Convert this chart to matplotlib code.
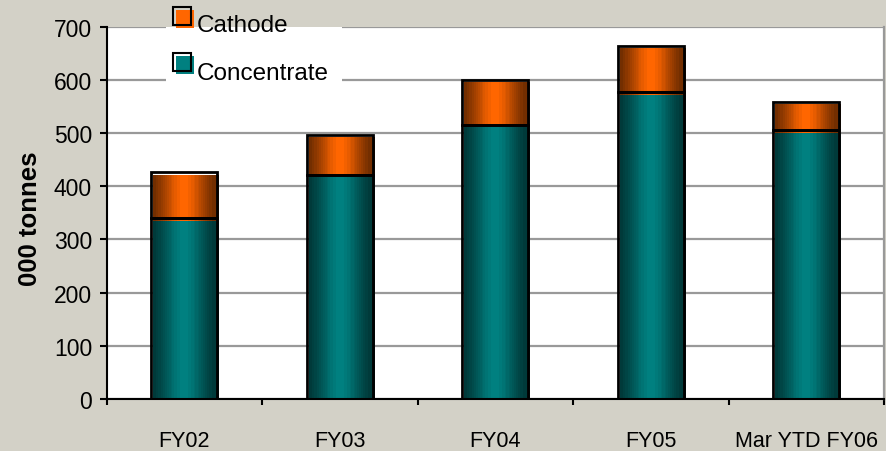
import numpy as np
import matplotlib
matplotlib.use("Agg")
import matplotlib.pyplot as plt
from matplotlib.patches import Rectangle
from matplotlib.transforms import ScaledTranslation

# ---- data ----
categories = ["FY02", "FY03", "FY04", "FY05", "Mar YTD FY06"]
concentrate = [340, 422, 516, 577, 505]
cathode = [86, 75, 84, 87, 54]
series_names = ["Cathode", "Concentrate"]
y_ticks = [0, 100, 200, 300, 400, 500, 600, 700]
y_label = "000 tonnes"

BG = "#D3D1C7"
ORANGE = np.array([255, 102, 0]) / 255.0
TEAL = np.array([0, 128, 128]) / 255.0

W, H = 887, 452
fig = plt.figure(figsize=(W / 100, H / 100), dpi=100, facecolor=BG)

ax_left, ax_right, ax_top, ax_bottom = 106.7, 884.0, 27.7, 400.0
ax = fig.add_axes([ax_left / W, (H - ax_bottom) / H,
                   (ax_right - ax_left) / W, (ax_bottom - ax_top) / H])
ax.set_facecolor("white")

# gradient profile (Excel-like cylinder shading, banded)
N = 120
t = np.linspace(0, 1, N)
prof = 0.36 + 0.64 * np.exp(-((t - 0.47) / 0.33) ** 2)
prof = np.round(prof * 22) / 22
prof = np.clip(prof, 0, 1)

def grad(color):
    return (prof[:, None] * color[None, :])[None, :, :]

bar_w = 0.424
shift = ax.transData + ScaledTranslation(2.0 / 100, -2.5 / 100, fig.dpi_scale_trans)

x = np.arange(len(categories))
for i in range(len(categories)):
    x0, x1 = x[i] - bar_w / 2, x[i] + bar_w / 2
    c = concentrate[i]
    tot = concentrate[i] + cathode[i]
    # shifted gradient fills
    ax.imshow(grad(TEAL), extent=(x0, x1, 0, c), transform=shift,
              aspect="auto", interpolation="nearest", zorder=2)
    ax.imshow(grad(ORANGE), extent=(x0, x1, c, tot), transform=shift,
              aspect="auto", interpolation="nearest", zorder=2)
    # outlines at true position
    ax.add_patch(Rectangle((x0, 0), bar_w, c, fill=False, edgecolor="black",
                           lw=2.0, zorder=3))
    ax.add_patch(Rectangle((x0, c), bar_w, cathode[i], fill=False,
                           edgecolor="black", lw=2.0, zorder=3))

ax.set_xlim(-0.5, len(categories) - 0.5)
ax.set_ylim(0, 700)

# grid and spines
ax.set_axisbelow(True)
ax.set_yticks(y_ticks)
ax.yaxis.grid(True, color="#999999", lw=1.6)
ax.spines["top"].set_visible(False)
ax.spines["right"].set_color("#999999")
ax.spines["right"].set_linewidth(1.6)
ax.spines["left"].set_linewidth(1.5)
ax.spines["bottom"].set_linewidth(1.5)

ax.tick_params(axis="y", direction="out", length=5, width=1.5, pad=5.5,
               labelsize=16.5)
ax.set_yticklabels([str(v) for v in y_ticks], fontfamily="Liberation Sans")

ax.set_xticks(x)
ax.set_xticklabels(categories, fontfamily="Liberation Sans", fontsize=15.5)
ax.tick_params(axis="x", which="major", length=0, pad=22)
ax.set_xticks(np.arange(-0.5, len(categories), 1.0), minor=True)
ax.tick_params(axis="x", which="minor", direction="out", length=4.5, width=1.5)

# white patch behind legend hiding gridlines
ax.add_patch(Rectangle((166 / W, (H - 90) / H), (342 - 166) / W, 62 / H,
                       transform=fig.transFigure, facecolor="white",
                       edgecolor="none", zorder=1))

# y label
fig.text(37 / W, (H - 219) / H, y_label, rotation=90, rotation_mode="anchor",
         ha="center", va="baseline", fontsize=18.5, fontweight="bold",
         fontfamily="Liberation Sans")

# legend (manual, Excel style)
leg_colors = [ORANGE, TEAL]
leg_box_top = [8.3, 53.5]
leg_base = [31.7, 80.0]
for name, col, bt, bl in zip(series_names, leg_colors, leg_box_top, leg_base):
    fig.patches.append(Rectangle(((173 + 3) / W, (H - bt - 18 - 3) / H), 18 / W, 18 / H,
                                 transform=fig.transFigure, facecolor=col,
                                 edgecolor="none", zorder=5))
    fig.patches.append(Rectangle((173 / W, (H - bt - 18) / H), 18 / W, 18 / H,
                                 transform=fig.transFigure, fill=False,
                                 edgecolor="black", lw=1.5, zorder=6))
    fig.text(197 / W, (H - bl) / H, name, ha="left", va="baseline",
             fontsize=17.5, fontfamily="Liberation Sans")

fig.savefig("out.png", dpi=100, facecolor=BG)
